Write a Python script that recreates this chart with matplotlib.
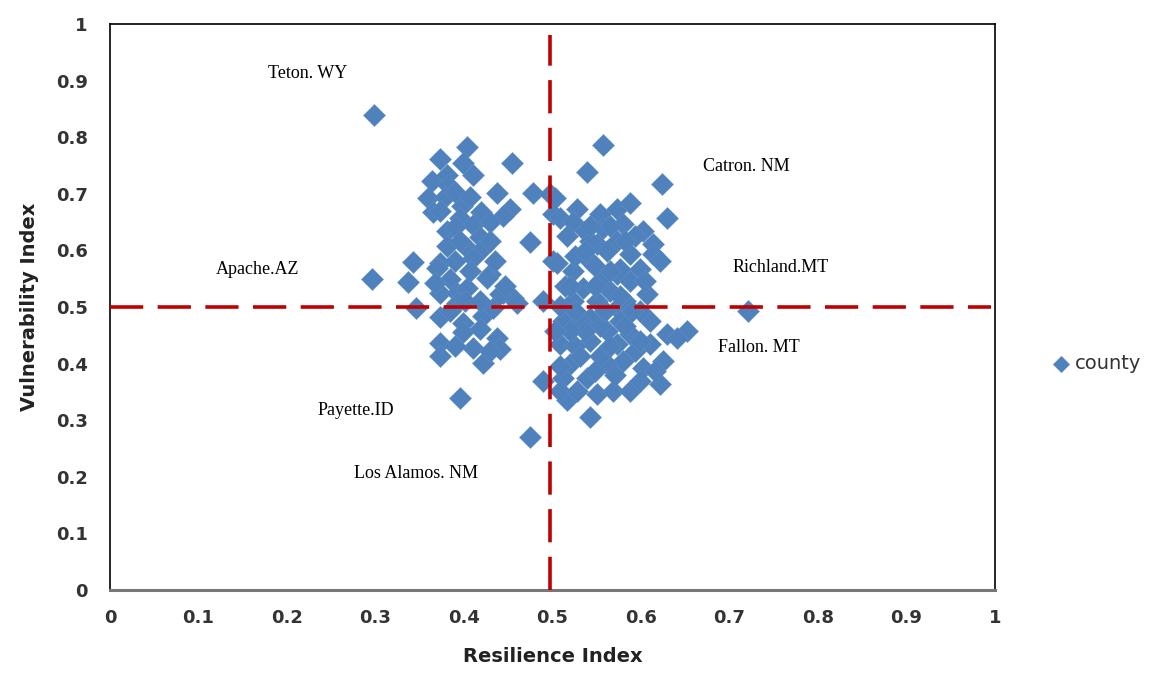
import numpy as np
import matplotlib
matplotlib.use("Agg")
from matplotlib import pyplot as plt

# resilience (x) / vulnerability (y) per county
resilience = [
    0.296, 0.298, 0.337, 0.342, 0.346, 0.403, 0.373, 0.399, 0.454, 0.410,
    0.364, 0.381, 0.382, 0.437, 0.478, 0.497, 0.359, 0.365, 0.398, 0.419,
    0.452, 0.444, 0.381, 0.395, 0.410, 0.418, 0.403, 0.421, 0.410, 0.475,
    0.373, 0.369, 0.429, 0.390, 0.384, 0.373, 0.392, 0.426, 0.444, 0.455,
    0.403, 0.373, 0.399, 0.421, 0.433, 0.489, 0.373, 0.399, 0.418, 0.437,
    0.441, 0.410, 0.421, 0.373, 0.395, 0.475, 0.489, 0.392, 0.441, 0.381,
    0.390, 0.367, 0.407, 0.501, 0.501, 0.460,
    0.379, 0.373, 0.390, 0.407, 0.429, 0.429, 0.395, 0.435, 0.401, 0.418,
    0.384, 0.429, 0.390, 0.446,
    0.557, 0.539, 0.624, 0.503, 0.508, 0.528, 0.523, 0.554, 0.573, 0.588,
    0.629, 0.516, 0.557, 0.580, 0.602, 0.614, 0.573, 0.550, 0.505, 0.523,
    0.542, 0.562, 0.588, 0.614, 0.621, 0.573, 0.554, 0.534, 0.588, 0.607,
    0.523, 0.550, 0.573, 0.542, 0.512, 0.610, 0.629, 0.652, 0.588, 0.562,
    0.508, 0.542, 0.573, 0.610, 0.641, 0.625, 0.602, 0.580, 0.562, 0.520,
    0.512, 0.539, 0.550, 0.568, 0.588, 0.621, 0.516, 0.542, 0.508, 0.528,
    0.721, 0.537, 0.525, 0.548, 0.565, 0.582, 0.531, 0.554, 0.576, 0.599,
    0.525, 0.554, 0.593, 0.514, 0.576, 0.599, 0.593, 0.542,
    0.537, 0.520, 0.548, 0.565, 0.576, 0.559, 0.537, 0.520, 0.582, 0.531,
    0.548, 0.571, 0.599, 0.565, 0.599, 0.616, 0.508, 0.503, 0.508, 0.525,
    0.590, 0.605, 0.582, 0.565, 0.542,
]
vulnerability = [
    0.549, 0.840, 0.545, 0.579, 0.498, 0.783, 0.762, 0.755, 0.754, 0.734,
    0.722, 0.734, 0.715, 0.702, 0.702, 0.699, 0.692, 0.667, 0.678, 0.667,
    0.674, 0.660, 0.634, 0.657, 0.644, 0.623, 0.604, 0.604, 0.586, 0.614,
    0.577, 0.569, 0.558, 0.641, 0.549, 0.525, 0.525, 0.551, 0.525, 0.516,
    0.533, 0.482, 0.472, 0.484, 0.498, 0.511, 0.437, 0.456, 0.461, 0.445,
    0.426, 0.428, 0.401, 0.414, 0.340, 0.271, 0.370, 0.507, 0.523, 0.607,
    0.581, 0.542, 0.563, 0.664, 0.581, 0.507,
    0.695, 0.669, 0.704, 0.695, 0.651, 0.616, 0.616, 0.581, 0.511, 0.511,
    0.493, 0.423, 0.431, 0.537,
    0.787, 0.739, 0.718, 0.692, 0.657, 0.673, 0.651, 0.664, 0.674, 0.683,
    0.657, 0.625, 0.639, 0.646, 0.634, 0.611, 0.616, 0.611, 0.577, 0.563,
    0.581, 0.599, 0.593, 0.593, 0.581, 0.558, 0.546, 0.533, 0.546, 0.523,
    0.511, 0.511, 0.498, 0.481, 0.475, 0.475, 0.452, 0.458, 0.452, 0.458,
    0.435, 0.440, 0.435, 0.435, 0.445, 0.405, 0.393, 0.405, 0.400, 0.400,
    0.375, 0.375, 0.347, 0.352, 0.352, 0.364, 0.335, 0.305, 0.352, 0.352,
    0.493, 0.634, 0.590, 0.572, 0.528, 0.511, 0.475, 0.467, 0.475, 0.493,
    0.431, 0.414, 0.423, 0.537, 0.567, 0.567, 0.625, 0.616,
    0.599, 0.537, 0.537, 0.563, 0.519, 0.493, 0.458, 0.458, 0.467, 0.414,
    0.387, 0.379, 0.370, 0.431, 0.440, 0.387, 0.502, 0.458, 0.396, 0.493,
    0.493, 0.546, 0.616, 0.643, 0.643,
]

# named counties: (label, x, y) of the text anchor
county_names = ["Teton. WY", "Catron. NM", "Apache.AZ", "Richland.MT",
                "Fallon. MT", "Payette.ID", "Los Alamos. NM"]
name_x = [0.179, 0.670, 0.120, 0.703, 0.687, 0.235, 0.276]
name_y = [0.912, 0.748, 0.567, 0.570, 0.428, 0.317, 0.206]

ticks = np.round(np.arange(0, 1.01, 0.1), 1)
tick_labels = ["0"] + [f"{t:g}" for t in ticks[1:-1]] + ["1"]

fig = plt.figure(figsize=(11.55, 6.86), dpi=100)
ax = fig.add_axes([110 / 1155, 1 - 590 / 686, 885 / 1155, 566 / 686])

ax.scatter(resilience, vulnerability, marker="D", s=130, color="#4F81BD",
           edgecolors="#6D97C9", linewidths=0.2, label="county", zorder=3)

# quadrant split at 0.5 / 0.5
dash_kw = dict(color="#C00000", lw=2.6, dashes=(9.2, 4.0), zorder=4)
ax.axhline(0.5, xmax=0.995, **dash_kw)
ax.axvline(0.497, ymax=0.98, **dash_kw)

for name, nx, ny in zip(county_names, name_x, name_y):
    ax.text(nx, ny, name, family="Liberation Serif", fontsize=13,
            va="center", ha="left", color="black", zorder=5)

ax.set_xlim(0, 1)
ax.set_ylim(0, 1)
ax.set_xticks(ticks)
ax.set_yticks(ticks)
ax.set_xticklabels(tick_labels)
ax.set_yticklabels(tick_labels)
ax.tick_params(length=0, labelsize=13, labelcolor="#333333", pad=14)
ax.tick_params(axis="y", pad=16)
for lab in ax.get_xticklabels() + ax.get_yticklabels():
    lab.set_fontweight("bold")
for sp in ax.spines.values():
    sp.set_color("black")
    sp.set_linewidth(1.2)
ax.spines["bottom"].set_color("#777777")
ax.spines["bottom"].set_linewidth(2.2)

ax.set_xlabel("Resilience Index", fontsize=14, fontweight="bold",
              color="#222222", labelpad=14)
ax.set_ylabel("Vulnerability Index", fontsize=14, fontweight="bold",
              color="#222222", labelpad=12)

ax.legend(loc="center left", bbox_to_anchor=(1.066, 0.4), frameon=False,
          fontsize=14, handlelength=0.8, handletextpad=0.3,
          markerscale=0.75, labelcolor="#333333", borderaxespad=0,
          borderpad=0)

fig.savefig("out.png", dpi=100)
